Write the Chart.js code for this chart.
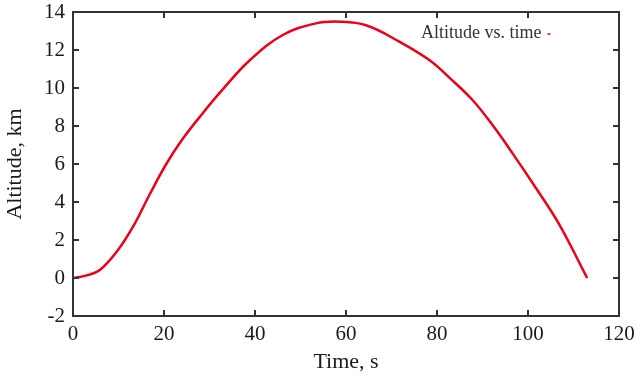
<!DOCTYPE html>
<html>
<head>
<meta charset="utf-8">
<script src="https://cdn.jsdelivr.net/npm/chart.js@4"></script>
<style>
  html, body { margin: 0; padding: 0; background: #fff; }
  #wrap { width: 636px; height: 378px; }
</style>
</head>
<body>
<div id="wrap"><canvas id="c" width="636" height="378"></canvas></div>
<script>
const seriesLabel = 'Altitude vs. time';
const xTitle = 'Time, s';
const yTitle = 'Altitude, km';
const times =     [0, 3,    5.9,  9.6,  13.2, 16.9, 20.5, 24.2, 28.6, 33,   38.8,  46.1,  53.4, 58.6,  64.4, 71.7,  78.3,  82.7,  87.8, 92.2, 96.5, 101.7, 106.8, 113];
const altitudes = [0, 0.14, 0.42, 1.38, 2.7,  4.42, 6.0,  7.35, 8.7,  9.95, 11.45, 12.79, 13.4, 13.49, 13.3, 12.44, 11.47, 10.55, 9.37, 8.05, 6.6,  4.75,  2.85,  0];
const xTicks = [0, 20, 40, 60, 80, 100, 120];
const yTicks = [-2, 0, 2, 4, 6, 8, 10, 12, 14];

const points = times.map((t, i) => ({ x: t, y: altitudes[i] }));
const axisColor = '#333';
const textColor = '#1a1a1a';
const serif = "'Liberation Serif', 'DejaVu Serif', serif";

const framePlugin = {
  id: 'frame',
  afterDraw(chart) {
    const { ctx, chartArea: a, scales } = chart;
    const tl = 6;
    ctx.save();
    ctx.strokeStyle = axisColor;
    ctx.lineWidth = 2;
    ctx.strokeRect(a.left, a.top, a.right - a.left, a.bottom - a.top);
    ctx.beginPath();
    xTicks.forEach(v => {
      const px = Math.round(scales.x.getPixelForValue(v));
      ctx.moveTo(px, a.bottom); ctx.lineTo(px, a.bottom - tl);
      ctx.moveTo(px, a.top); ctx.lineTo(px, a.top + tl);
    });
    yTicks.forEach(v => {
      const py = Math.round(scales.y.getPixelForValue(v));
      ctx.moveTo(a.left, py); ctx.lineTo(a.left + tl, py);
      ctx.moveTo(a.right, py); ctx.lineTo(a.right - tl, py);
    });
    ctx.stroke();
    // legend
    const ds = chart.data.datasets[0];
    ctx.font = '18px ' + serif;
    ctx.fillStyle = '#333';
    ctx.textAlign = 'left';
    ctx.textBaseline = 'middle';
    const lx = 421, ly = 33;
    ctx.fillText(ds.label, lx, ly);
    const w = ctx.measureText(ds.label).width;
    ctx.strokeStyle = ds.borderColor;
    ctx.lineWidth = 1.5;
    ctx.beginPath();
    ctx.moveTo(lx + w + 6, ly + 1);
    ctx.lineTo(lx + w + 9, ly + 1);
    ctx.stroke();
    ctx.restore();
  }
};

new Chart(document.getElementById('c'), {
  type: 'line',
  data: {
    datasets: [{
      label: seriesLabel,
      data: points,
      borderColor: '#e8001c',
      borderWidth: 2.5,
      pointRadius: 0,
      fill: false,
      tension: 0.4
    }]
  },
  options: {
    responsive: false,
    animation: false,
    layout: { padding: { top: 12, right: 17, left: 0, bottom: 0 } },
    plugins: { legend: { display: false }, tooltip: { enabled: false } },
    scales: {
      x: {
        type: 'linear',
        min: 0, max: 120,
        afterBuildTicks: s => { s.ticks = xTicks.map(v => ({ value: v })); },
        afterFit: s => { s.height = 62; s.paddingLeft = 0; s.paddingRight = 0; },
        grid: { display: false, drawTicks: false },
        border: { display: false },
        ticks: { color: textColor, font: { family: serif, size: 21 }, padding: 6, maxRotation: 0 },
        title: { display: true, text: xTitle, color: textColor, font: { family: serif, size: 22 }, padding: { top: 0, bottom: 3 } }
      },
      y: {
        type: 'linear',
        min: -2, max: 14,
        afterBuildTicks: s => { s.ticks = yTicks.map(v => ({ value: v })); },
        afterFit: s => { s.width = 73; s.paddingTop = 0; s.paddingBottom = 0; },
        grid: { display: false, drawTicks: false },
        border: { display: false },
        ticks: { color: textColor, font: { family: serif, size: 21 }, padding: 8 },
        title: { display: true, text: yTitle, color: textColor, font: { family: serif, size: 22 }, padding: { top: 2, bottom: 0 } }
      }
    }
  },
  plugins: [framePlugin]
});
</script>
</body>
</html>
